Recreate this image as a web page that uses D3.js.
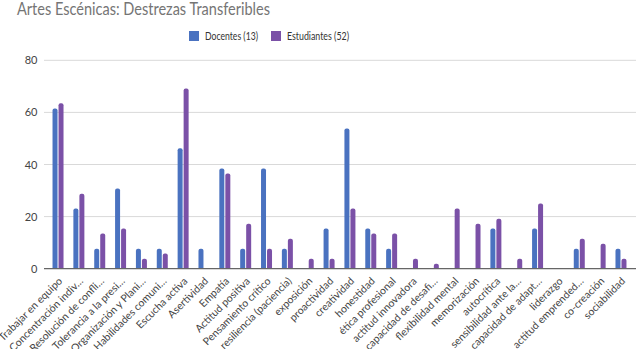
<!DOCTYPE html>
<html><head><meta charset="utf-8">
<script src="https://cdn.jsdelivr.net/npm/d3@7"></script>
<style>body{margin:0;background:#fff}svg{display:block}</style>
</head><body>
<svg id="c" width="638" height="349"></svg>
<script>
const categories = ["Trabajar en equipo","Concentración indiv…","Resolución de confli…","Tolerancia a la presi…","Organización y Plani…","Habilidades comuni…","Escucha activa","Asertividad","Empatía","Actitud positiva","Pensamiento crítico","resiliencia (paciencia)","exposición","proactividad","creatividad","honestidad","ética profesional","actitud innovadora","capacidad de desafi…","flexibilidad mental","memorización","autocrítica","sensibilidad ante la…","capacidad de adapt…","liderazgo","actitud emprended…","co-creación","sociabilidad"];
const docentes = [61.5,23.1,7.7,30.8,7.7,7.7,46.2,7.7,38.5,7.7,38.5,7.7,0,15.4,53.8,15.4,7.7,0,0,0,0,15.4,0,15.4,0,7.7,0,7.7];
const estudiantes = [63.5,28.8,13.5,15.4,3.8,5.8,69.2,0,36.5,17.3,7.7,11.5,3.8,3.8,23.1,13.5,13.5,3.8,1.9,23.1,17.3,19.2,3.8,25,0,11.5,9.6,3.8];
const seriesNames = ["Docentes (13)","Estudiantes (52)"];
const yTicks = [0,20,40,60,80];

const colors = ["#4a72c0","#7b51a7"];
const svg = d3.select("#c");
const L=44, R=636, T=60.3, B=268.7;
const x = d3.scaleBand().domain(categories).range([47.6,631.4]);
const y = d3.scaleLinear().domain([0,80]).range([B,T]);
const font = "Lato, 'Open Sans', sans-serif";

svg.append("text").attr("x",17).attr("y",15).attr("font-family",font).attr("font-size",17)
  .attr("textLength",253).attr("lengthAdjust","spacingAndGlyphs")
  .attr("fill","#757575").text("Artes Escénicas: Destrezas Transferibles");

// grid
svg.append("g").selectAll("line").data(yTicks.filter(d=>d>0)).join("line")
  .attr("x1",L).attr("x2",R).attr("y1",d=>y(d)).attr("y2",d=>y(d)).attr("stroke","#d9d9d9").attr("stroke-width",1);
svg.append("g").selectAll("text").data(yTicks).join("text")
  .attr("x",37.5).attr("y",d=>y(d)+4).attr("text-anchor","end").attr("font-family",font).attr("font-size",11).attr("fill","#444").text(d=>d);

const bw=5, gap=1;
function barPath(x0,w,y0,y1){
  const h=y1-y0; if(h<=0) return "";
  const r=Math.min(2,h,w/2);
  return `M${x0},${y1}V${y0+r}Q${x0},${y0} ${x0+r},${y0}H${x0+w-r}Q${x0+w},${y0} ${x0+w},${y0+r}V${y1}Z`;
}
[docentes,estudiantes].forEach((vals,si)=>{
  svg.append("g").selectAll("path").data(vals).join("path")
    .attr("d",(v,i)=>{
      const c=x(categories[i])+x.bandwidth()/2;
      const x0 = si===0 ? c-gap/2-bw : c+gap/2;
      return barPath(x0,bw,y(v),B);
    }).attr("fill",colors[si]);
});
svg.append("line").attr("x1",L).attr("x2",R).attr("y1",B).attr("y2",B).attr("stroke","#666").attr("stroke-width",1.2);

// x labels
svg.append("g").selectAll("text").data(categories).join("text")
  .attr("transform",d=>`translate(${x(d)+x.bandwidth()/2+5},${B+13}) rotate(-45)`)
  .attr("text-anchor","end").attr("font-family",font).attr("font-size",10.5).attr("fill","#444").text(d=>d);

// legend
const leg=[{x:189,t:205,w:53},{x:271,t:287,w:62}];
seriesNames.forEach((n,i)=>{
  svg.append("rect").attr("x",leg[i].x).attr("y",31).attr("width",10).attr("height",10).attr("fill",colors[i]);
  svg.append("text").attr("x",leg[i].t).attr("y",40).attr("font-family",font).attr("font-size",10.5)
    .attr("textLength",leg[i].w).attr("lengthAdjust","spacingAndGlyphs").attr("fill","#333").text(n);
});
</script>
</body></html>
